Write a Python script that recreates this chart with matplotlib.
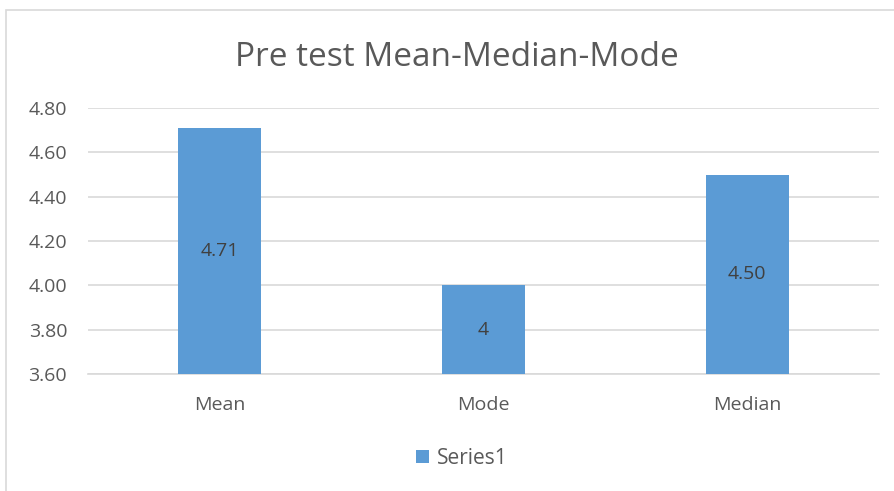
import matplotlib
matplotlib.use("Agg")
import matplotlib.pyplot as plt
from matplotlib.patches import Rectangle

categories = ["Mean", "Mode", "Median"]
values = [4.71, 4.0, 4.50]
value_labels = ["4.71", "4", "4.50"]
yticks = [3.60, 3.80, 4.00, 4.20, 4.40, 4.60, 4.80]
series_name = "Series1"

plt.rcParams['font.family'] = ['Open Sans', 'DejaVu Sans']
text_color = "#595959"
bar_color = "#5B9BD5"
grid_color = "#D9D9D9"

fig = plt.figure(figsize=(8.95, 4.91), dpi=100)
fig.patches.append(Rectangle((6/895, -0.02), 1.02, 1 - 10/491 + 0.02,
                             transform=fig.transFigure, fill=False,
                             edgecolor="#D9D9D9", linewidth=1.2))
ax = fig.add_axes([88/895, 1 - 374/491, (879 - 88)/895, (374 - 108)/491])

x = list(range(len(categories)))
bars = ax.bar(x, values, width=0.315, color=bar_color, label=series_name, zorder=3)
ax.set_xlim(-0.5, len(categories) - 0.5)
ax.set_ylim(3.60, 4.80)
ax.set_yticks(yticks)
ax.set_yticklabels([f"{v:.2f}" for v in yticks])
ax.set_xticks(x)
ax.set_xticklabels(categories)
ax.yaxis.grid(True, color=grid_color, linewidth=1.2, zorder=0)
for s in ax.spines.values():
    s.set_visible(False)
ax.spines['bottom'].set_visible(True)
ax.spines['bottom'].set_color(grid_color)
ax.spines['bottom'].set_linewidth(1.2)
ax.tick_params(axis='both', length=0, labelsize=14, colors=text_color)
ax.tick_params(axis='y', pad=15)
ax.tick_params(axis='x', pad=16)

for xi, v, lab in zip(x, values, value_labels):
    ax.text(xi, (3.60 + v) / 2, lab, ha='center', va='center',
            fontsize=14, color="#404040", zorder=4)

fig.text(457/895, 1 - 57/491, "Pre test Mean-Median-Mode", ha='center', va='center',
         fontsize=24, color=text_color)

leg = fig.legend(handles=[bars], labels=[series_name], loc='center',
                 bbox_to_anchor=(462/895, 1 - 458/491), frameon=False,
                 fontsize=15, handlelength=0.6, handleheight=0.6, handletextpad=0.4)
for t in leg.get_texts():
    t.set_color(text_color)

fig.savefig("out.png", dpi=100)
